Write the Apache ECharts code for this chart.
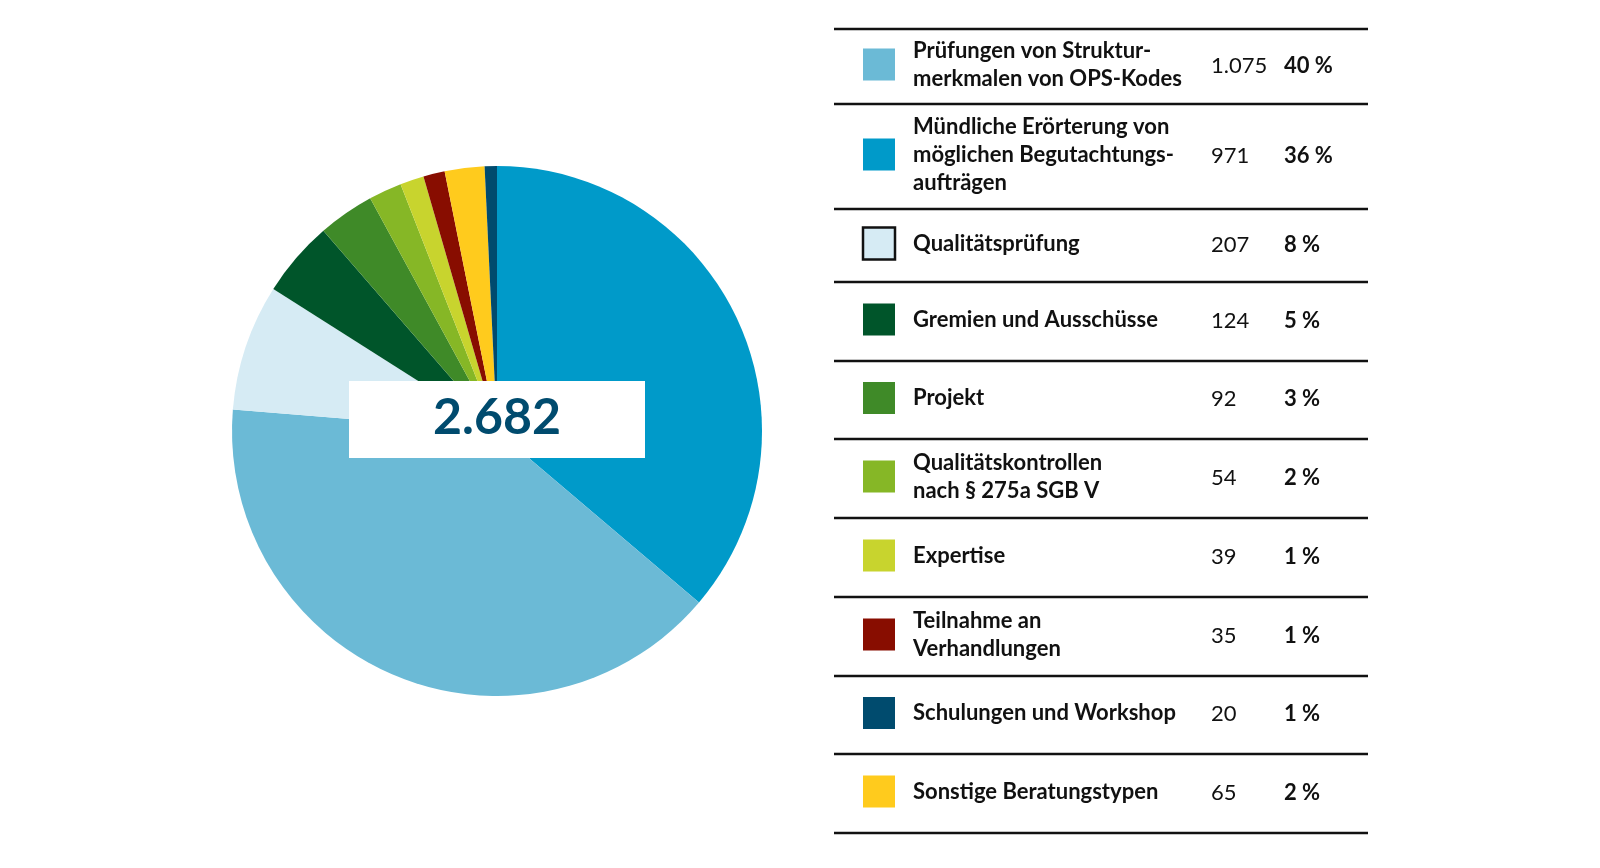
<!DOCTYPE html>
<html>
<head>
<meta charset="utf-8">
<title>Beratungstypen</title>
<script src="https://cdn.jsdelivr.net/npm/echarts@6/dist/echarts.min.js"></script>
<style>
  html, body { margin: 0; padding: 0; background: #fff; }
  #chart { width: 1600px; height: 868px; }
</style>
</head>
<body>
<div id="chart"></div>
<script>
// Tabelle (Reihenfolge wie in der Legende)
const names = [
  'Prüfungen von Struktur-\nmerkmalen von OPS-Kodes',
  'Mündliche Erörterung von\nmöglichen Begutachtungs-\naufträgen',
  'Qualitätsprüfung',
  'Gremien und Ausschüsse',
  'Projekt',
  'Qualitätskontrollen\nnach § 275a SGB V',
  'Expertise',
  'Teilnahme an\nVerhandlungen',
  'Schulungen und Workshop',
  'Sonstige Beratungstypen'
]
const values = [1075, 971, 207, 124, 92, 54, 39, 35, 20, 65]
const percents = ['40 %', '36 %', '8 %', '5 %', '3 %', '2 %', '1 %', '1 %', '1 %', '2 %']
const colors = ['#6bbad6', '#009ac9', '#d6ebf4', '#00552a', '#3f8a28', '#86b726', '#c8d42e', '#880d00', '#004b6e', '#ffcb1d']
// Reihenfolge der Segmente im Kreis (im Uhrzeigersinn ab 12 Uhr), Index in names
const pieOrder = [1, 0, 2, 3, 4, 5, 6, 7, 9, 8]
const total = 2682

const fmt = v => String(v).replace(/\B(?=(\d{3})+(?!\d))/g, '.')
const font = 'Lato, "Noto Sans", sans-serif'

const chart = echarts.init(document.getElementById('chart'))

//Tabellenlinien
const lines = [29, 104, 209, 282, 361, 439, 518, 597, 676, 754, 833]
const graphic = []
lines.forEach(y => {
  graphic.push({
    type: 'line',
    shape: { x1: 834, y1: y, x2: 1368, y2: y },
    style: { stroke: '#111', lineWidth: 2.5 }
  })
})
names.forEach((n, i) => {
  const cy = (lines[i] + lines[i + 1]) / 2
  graphic.push({
    type: 'rect',
    shape: { x: 863, y: cy - 18, width: 32, height: 32 },
    style: {
      fill: colors[i],
      stroke: i === 2 ? '#111' : null,
      lineWidth: i === 2 ? 2.5 : 0
    }
  })
  graphic.push({
    type: 'text',
    x: 913, y: cy - 2,
    style: {
      text: n, font: '700 22px ' + font, fill: '#111',
      lineHeight: 28, verticalAlign: 'middle'
    }
  })
  graphic.push({
    type: 'text',
    x: 1211, y: cy - 1,
    style: { text: fmt(values[i]), font: '400 22px ' + font, fill: '#111', verticalAlign: 'middle' }
  })
  graphic.push({
    type: 'text',
    x: 1284, y: cy - 1,
    style: { text: percents[i], font: '700 22px ' + font, fill: '#111', verticalAlign: 'middle' }
  })
})
// Gesamtzahl im Kasten
graphic.push({
  type: 'rect',
  shape: { x: 349, y: 381, width: 296, height: 77 },
  style: { fill: '#fff' },
  z: 10
})
graphic.push({
  type: 'text',
  x: 497, y: 418,
  style: {
    text: fmt(total), font: '700 50px ' + font, fill: '#004b6e',
    align: 'center', verticalAlign: 'middle'
  },
  z: 11
})

chart.setOption({
  animation: false,
  series: [
    {
      type: 'pie',
      center: [497, 431],
      radius: 265,
      startAngle: 90,
      clockwise: true,
      label: { show: false },
      labelLine: { show: false },
      emphasis: { disabled: true },
      itemStyle: { borderWidth: 0 },
      data: pieOrder.map(i => ({
        name: names[i],
        value: values[i],
        itemStyle: { color: colors[i] }
      }))
    }
  ],
  graphic: graphic
})
</script>
</body>
</html>
